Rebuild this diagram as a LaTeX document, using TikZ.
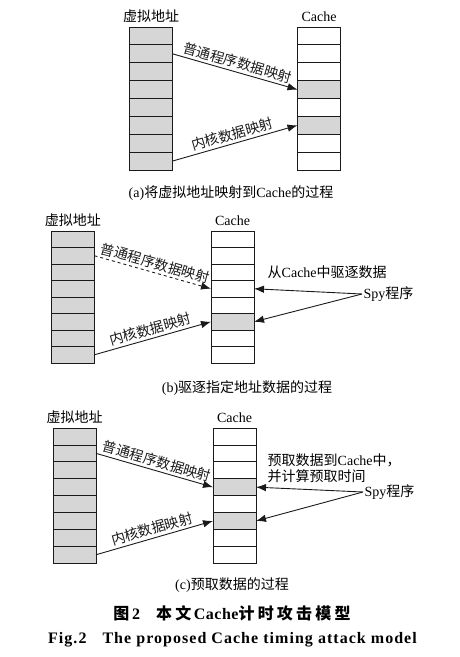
\documentclass[tikz,border=0pt]{standalone}
\usepackage{fontspec}
\setmainfont{Liberation Serif}
\newfontfamily\cjk{Noto Sans CJK SC}
\usepackage{tikz}
\usetikzlibrary{positioning,arrows.meta}
\usepackage{xcolor}
\definecolor{cellgray}{HTML}{D6D6D6}
\definecolor{ink}{HTML}{1A1A1A}
\newcommand\zh[1]{{\cjk #1}}
\newcommand\zhb[1]{{\cjk\addfontfeature{LetterSpace=20}#1}}
\tikzset{
  cell/.style={draw=ink, line width=0.8pt, minimum width=43pt, minimum height=#1,
    inner sep=0pt, outer sep=0pt},
  lbl/.style={font=\fontsize{14}{16}\selectfont, inner sep=1.5pt},
  head/.style={lbl, text height=11pt, text depth=3pt},
  map/.style={->, line width=0.9pt, ink}
}

\begin{document}
\begin{tikzpicture}[x=1pt, y=-1pt, >={Latex[length=10pt,width=7.5pt]}]
        \useasboundingbox (0,0) rectangle (459,657);
        % three panels: virtual address column and cache column
        \foreach \p/\lx/\cx/\top/\h/\ga in {a/151/319/27/17.875/4, b/73/232.5/231/16.5/6, c/74.5/234.5/428/16.9/4}{
          \foreach \r in {1,...,8}{
            \node[cell=\h pt, fill=cellgray] (vm\p\r) at (\lx,{\top+(\r-0.5)*\h}) {};
            \pgfmathtruncatemacro\isg{(\r==\ga)||(\r==6)}
            \def\cfill{white}
            \ifnum\isg=1 \def\cfill{cellgray}\fi
            \node[cell=\h pt, fill=\cfill] (ch\p\r) at (\cx,{\top+(\r-0.5)*\h}) {};
          }
          \node[head, above=1pt of vm\p1] (va\p) {\zh{虚拟地址}};
          \node[head, above=1pt of ch\p1] (cache\p) {Cache};
        }
        % (a)
        \draw[map] (vma2.east) -- (cha4.west)
          node[lbl, midway, above=1pt, sloped]{\zh{普通程序数据映射}};
        \draw[map] (vma8.east) -- (cha6.west)
          node[lbl, midway, above=1pt, sloped]{\zh{内核数据映射}};
        \node[lbl] (capa) at (231,193) {(a)\zh{将虚拟地址映射到}Cache\zh{的过程}};
        % (b) evict
        \draw[map, dashed] (vmb2.east) -- (chb4.west)
          node[lbl, midway, above=1pt, sloped]{\zh{普通程序数据映射}};
        \draw[map] (vmb8.east) -- (chb6.west)
          node[lbl, midway, above=1pt, sloped]{\zh{内核数据映射}};
        \node[lbl, anchor=west] (evict) at (266,272) {\zh{从}Cache\zh{中驱逐数据}};
        \node[lbl, anchor=west] (spyb) at (362,294) {Spy\zh{程序}};
        \draw[map] (spyb.west) -- (chb4.east);
        \draw[map] (spyb.west) -- (chb6.east);
        \node[lbl] (capb) at (247,388) {(b)\zh{驱逐指定地址数据的过程}};
        % (c) prefetch
        \draw[map] (vmc2.east) -- (chc4.west)
          node[lbl, midway, above=1pt, sloped]{\zh{普通程序数据映射}};
        \draw[map] (vmc8.east) -- (chc6.west)
          node[lbl, midway, above=1pt, sloped]{\zh{内核数据映射}};
        \node[lbl, anchor=west, align=left] (fetch) at (266,468)
          {\zh{预取数据到}Cache\zh{中，}\\\zh{并计算预取时间}};
        \node[lbl, anchor=west] (spyc) at (363,492) {Spy\zh{程序}};
        \draw[map] (spyc.west) -- (chc4.east);
        \draw[map] (spyc.west) -- (chc6.east);
        \node[lbl] (capc) at (232,585) {(c)\zh{预取数据的过程}};
        % figure caption
        \node[font=\fontsize{16}{18}\selectfont\bfseries\addfontfeature{LetterSpace=3}] (title) at (232,613)
          {\zhb{图}\,2\quad\zhb{本文}\,Cache\zhb{计时攻击模型}};
        \node[font=\fontsize{16}{18}\selectfont\bfseries\addfontfeature{LetterSpace=6.5}] (entitle) at (232.5,640)
          {Fig.2\quad The proposed Cache timing attack model};
      \end{tikzpicture}
\end{document}
